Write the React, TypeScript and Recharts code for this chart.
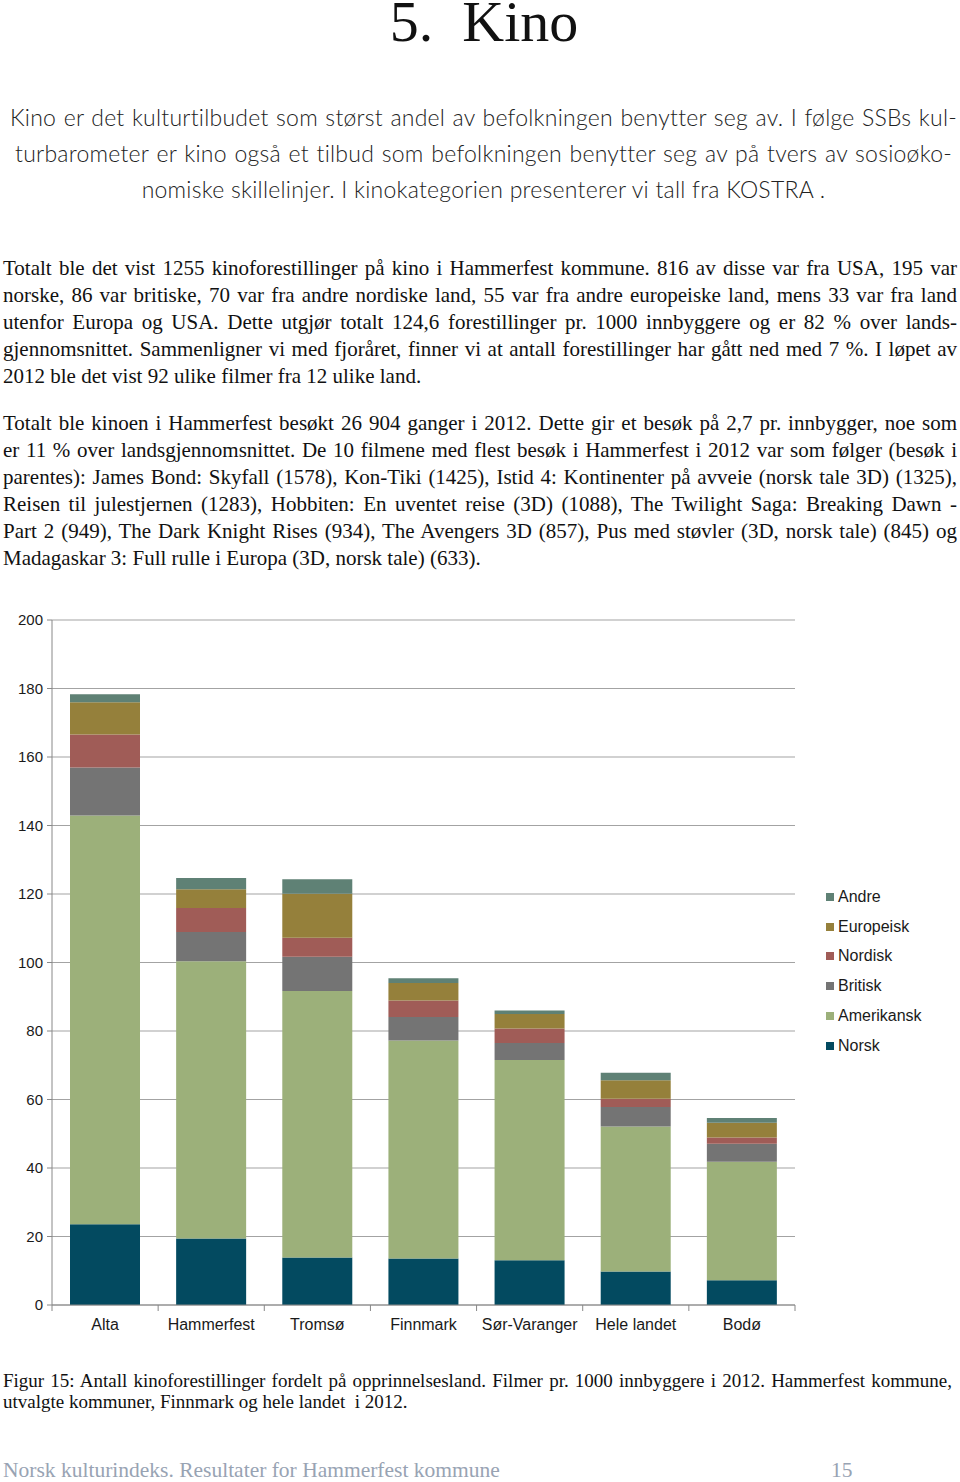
import { Bar, BarChart, CartesianGrid, XAxis, YAxis } from 'recharts';

const categories = ['Alta', 'Hammerfest', 'Tromsø', 'Finnmark', 'Sør-Varanger', 'Hele landet', 'Bodø'];
const norsk = [23.6, 19.4, 13.9, 13.6, 13.1, 9.8, 7.2];
const amerikansk = [119.3, 81.0, 77.8, 63.6, 58.4, 42.3, 34.6];
const britisk = [14.0, 8.5, 10.0, 6.9, 5.0, 5.7, 5.3];
const nordisk = [9.7, 7.0, 5.5, 4.8, 4.2, 2.4, 1.8];
const europeisk = [9.4, 5.5, 12.9, 5.1, 4.3, 5.4, 4.3];
const andre = [2.3, 3.3, 4.2, 1.4, 1.0, 2.2, 1.4];
const yTicks = [0, 20, 40, 60, 80, 100, 120, 140, 160, 180, 200];

const series = [
  { key: 'Norsk', values: norsk, color: '#034a60' },
  { key: 'Amerikansk', values: amerikansk, color: '#9cb07a' },
  { key: 'Britisk', values: britisk, color: '#747474' },
  { key: 'Nordisk', values: nordisk, color: '#a05c57' },
  { key: 'Europeisk', values: europeisk, color: '#95803b' },
  { key: 'Andre', values: andre, color: '#5f8175' },
];

const data = categories.map((name, i) => {
  const row: { [k: string]: string | number } = { name };
  series.forEach((s) => {
    row[s.key] = s.values[i];
  });
  return row;
});

const para1 = [
  'Kino er det kulturtilbudet som størst andel av befolkningen benytter seg av. I følge SSBs kul-',
  'turbarometer er kino også et tilbud som befolkningen benytter seg av på tvers av sosioøko-',
  'nomiske skillelinjer. I kinokategorien presenterer vi tall fra KOSTRA .',
];

const para2 = [
  'Totalt ble det vist 1255 kinoforestillinger på kino i Hammerfest kommune. 816 av disse var fra USA, 195 var',
  'norske, 86 var britiske, 70 var fra andre nordiske land, 55 var fra andre europeiske land, mens 33 var fra land',
  'utenfor Europa og USA. Dette utgjør totalt 124,6 forestillinger pr. 1000 innbyggere og er 82 % over lands-',
  'gjennomsnittet. Sammenligner vi med fjoråret, finner vi at antall forestillinger har gått ned med 7 %. I løpet av',
  '2012 ble det vist 92 ulike filmer fra 12 ulike land.',
];

const para3 = [
  'Totalt ble kinoen i Hammerfest besøkt 26 904 ganger i 2012. Dette gir et besøk på 2,7 pr. innbygger, noe som',
  'er 11 % over landsgjennomsnittet. De 10 filmene med flest besøk i Hammerfest i 2012 var som følger (besøk i',
  'parentes): James Bond: Skyfall (1578), Kon-Tiki (1425), Istid 4: Kontinenter på avveie (norsk tale 3D) (1325),',
  'Reisen til julestjernen (1283), Hobbiten: En uventet reise (3D) (1088), The Twilight Saga: Breaking Dawn -',
  'Part 2 (949), The Dark Knight Rises (934), The Avengers 3D (857), Pus med støvler (3D, norsk tale) (845) og',
  'Madagaskar 3: Full rulle i Europa (3D, norsk tale) (633).',
];

const caption = [
  'Figur 15: Antall kinoforestillinger fordelt på opprinnelsesland. Filmer pr. 1000 innbyggere i 2012. Hammerfest kommune,',
  'utvalgte kommuner, Finnmark og hele landet  i 2012.',
];

const CHART_W = 960;
const MARGIN = { top: 20, right: 165, left: 0, bottom: 5 };
const Y_W = 52;
const BAND = (CHART_W - MARGIN.right - MARGIN.left - Y_W) / categories.length;

const serif = '"Liberation Serif", "Times New Roman", serif';
const sans = '"Liberation Sans", Arial, sans-serif';
const light = 'Lato, "Open Sans", sans-serif';

function SerifBlock({ lines, top }: { lines: string[]; top: number }) {
  return (
    <div style={{ position: 'absolute', left: 3, top, width: 954, fontFamily: serif, fontSize: 21, color: '#111' }}>
      {lines.map((l, i) => (
        <div
          key={i}
          style={{
            height: 27,
            lineHeight: '27px',
            whiteSpace: 'pre',
            textAlignLast: i < lines.length - 1 ? 'justify' : 'left',
          }}
        >
          {l}
        </div>
      ))}
    </div>
  );
}

function XTick(props: any) {
  const { x, y, payload, index } = props;
  return (
    <g>
      {index === 0 && <line x1={x - BAND / 2} x2={x - BAND / 2} y1={y} y2={y + 6} stroke="#888" />}
      <line x1={x + BAND / 2} x2={x + BAND / 2} y1={y} y2={y + 6} stroke="#888" />
      <text x={x} y={y + 25} textAnchor="middle" fontFamily={sans} fontSize={16} fill="#1a1a1a">
        {payload.value}
      </text>
    </g>
  );
}

export default function App() {
  const legendItems = [...series].reverse();
  return (
    <div style={{ position: 'absolute', left: 0, top: 0, width: 960, height: 1482, background: '#fff', overflow: 'hidden' }}>
      <div
        style={{
          position: 'absolute',
          left: 0,
          top: -8,
          width: 968,
          textAlign: 'center',
          fontFamily: serif,
          fontSize: 58,
          lineHeight: '60px',
          color: '#111',
        }}
      >
        5.&nbsp; Kino
      </div>

      <div
        style={{
          position: 'absolute',
          left: 10,
          top: 99,
          width: 947,
          fontFamily: light,
          fontWeight: 300,
          fontSize: 23,
          letterSpacing: 0.25,
          color: '#222',
        }}
      >
        {para1.map((l, i) => (
          <div
            key={i}
            style={{
              height: 36,
              lineHeight: '36px',
              whiteSpace: 'nowrap',
              textAlign: i < 2 ? 'justify' : 'center',
              textAlignLast: i < 2 ? 'justify' : 'center',
              padding: i === 1 ? '0 5px' : 0,
            }}
          >
            {l}
          </div>
        ))}
      </div>

      <SerifBlock lines={para2} top={255} />
      <SerifBlock lines={para3} top={410} />

      <div style={{ position: 'absolute', left: 0, top: 600 }}>
        <BarChart width={CHART_W} height={740} data={data} margin={MARGIN} barSize={70}>
          <CartesianGrid vertical={false} stroke="#a3a3a3" />
          <XAxis
            dataKey="name"
            stroke="#888"
            tickSize={0}
            tickMargin={0}
            height={30}
            interval={0}
            tick={<XTick />}
          />
          <YAxis
            width={Y_W}
            domain={[0, 200]}
            ticks={yTicks}
            interval={0}
            stroke="#888"
            tickSize={5}
            tickMargin={4}
            tick={{ fontFamily: sans, fontSize: 15, fill: '#1a1a1a' }}
          />
          {series.map((s) => (
            <Bar key={s.key} dataKey={s.key} stackId="a" fill={s.color} isAnimationActive={false} />
          ))}
        </BarChart>
        <div style={{ position: 'absolute', left: 826, top: 282, fontFamily: sans, fontSize: 16, color: '#1a1a1a' }}>
          {legendItems.map((s) => (
            <div key={s.key} style={{ height: 29.8, display: 'flex', alignItems: 'center' }}>
              <span style={{ width: 8, height: 8, background: s.color, marginRight: 4, display: 'inline-block' }} />
              {s.key}
            </div>
          ))}
        </div>
      </div>

      <div style={{ position: 'absolute', left: 3, top: 1370, width: 949, fontFamily: serif, fontSize: 19, color: '#111' }}>
        {caption.map((l, i) => (
          <div key={i} style={{ height: 21, lineHeight: '21px', whiteSpace: 'pre', textAlignLast: i === 0 ? 'justify' : 'left' }}>
            {l}
          </div>
        ))}
      </div>

      <div style={{ position: 'absolute', left: 3, top: 1458, fontFamily: serif, fontSize: 21.5, color: '#98a3b3', whiteSpace: 'pre' }}>
        Norsk kulturindeks. Resultater for Hammerfest kommune
      </div>
      <div style={{ position: 'absolute', left: 831, top: 1458, fontFamily: serif, fontSize: 21.5, color: '#98a3b3' }}>
        15
      </div>
    </div>
  );
}
